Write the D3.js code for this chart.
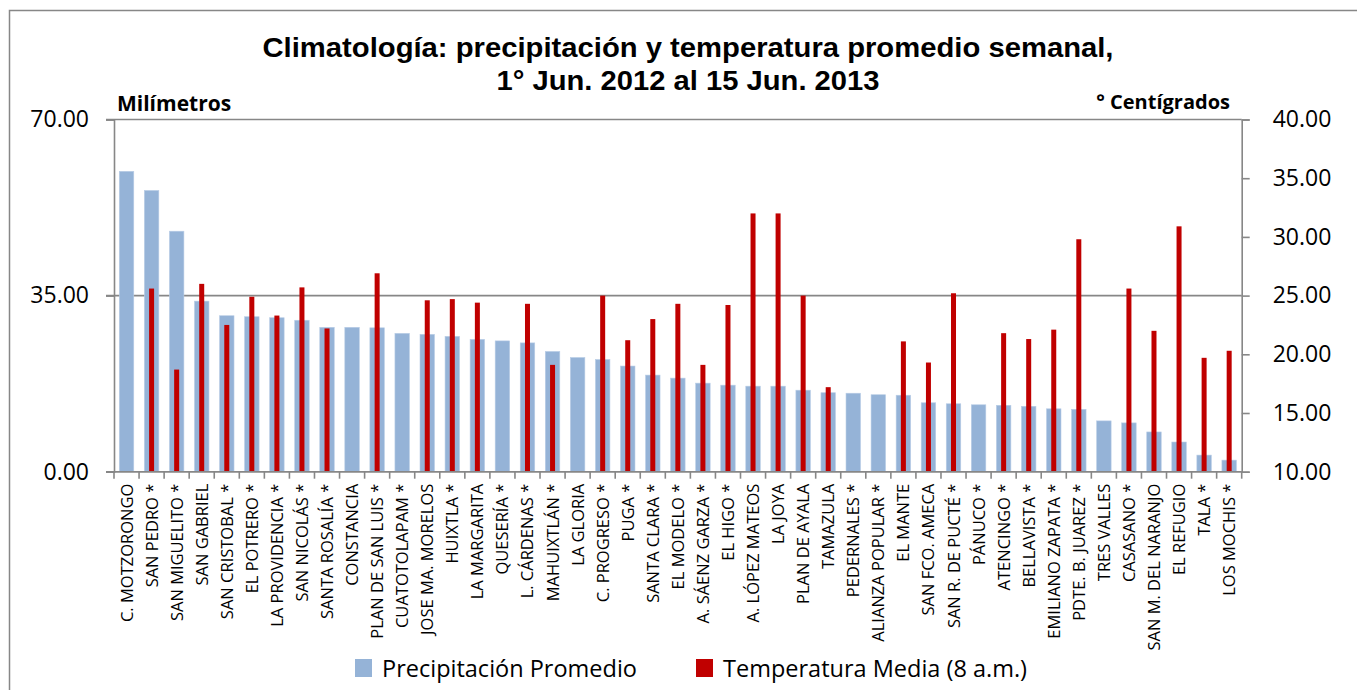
<!DOCTYPE html>
<html>
<head>
<meta charset="utf-8">
<script src="https://cdn.jsdelivr.net/npm/d3@7"></script>
<style>
  body { margin: 0; background: #fff; }
  text { font-family: "Open Sans", sans-serif; fill: #000; }
</style>
</head>
<body>
<svg id="grafica" width="1357" height="690"></svg>
<script>
// estaciones, en el orden del eje x
var estaciones = ["C. MOTZORONGO", "SAN PEDRO *", "SAN MIGUELITO *", "SAN GABRIEL", "SAN CRISTOBAL *",
    "EL POTRERO *", "LA PROVIDENCIA *", "SAN NICOLÁS *", "SANTA ROSALÍA *", "CONSTANCIA",
    "PLAN DE SAN LUIS *", "CUATOTOLAPAM *", "JOSE MA. MORELOS", "HUIXTLA *", "LA MARGARITA",
    "QUESERÍA *", "L. CÁRDENAS *", "MAHUIXTLÁN *", "LA GLORIA", "C. PROGRESO *",
    "PUGA *", "SANTA CLARA *", "EL MODELO *", "A. SÁENZ GARZA *", "EL HIGO *",
    "A. LÓPEZ MATEOS", "LA JOYA", "PLAN DE  AYALA", "TAMAZULA", "PEDERNALES *",
    "ALIANZA POPULAR *", "EL MANTE", "SAN FCO. AMECA", "SAN R. DE PUCTÉ *", "PÁNUCO *",
    "ATENCINGO *", "BELLAVISTA *", "EMILIANO ZAPATA *", "PDTE. B. JUAREZ *", "TRES VALLES",
    "CASASANO *", "SAN M. DEL NARANJO", "EL REFUGIO", "TALA *", "LOS MOCHIS *"];

// precipitación promedio semanal (mm)
var precipitacion = [59.7, 55.9, 47.8, 33.9, 31.0, 30.8, 30.6, 30.1, 28.7, 28.7,
    28.6, 27.5, 27.3, 26.9, 26.3, 26.0, 25.6, 23.9, 22.7, 22.3,
    21.0, 19.2, 18.6, 17.6, 17.2, 17.0, 17.0, 16.2, 15.7, 15.6,
    15.3, 15.2, 13.7, 13.5, 13.3, 13.2, 13.0, 12.5, 12.4, 10.1,
    9.7, 7.9, 5.9, 3.3, 2.3];

// temperatura media 8 a.m. (°C), null = sin dato
var temperatura = [null, 25.6, 18.7, 26.0, 22.5, 24.9, 23.3, 25.7, 22.2, null,
    26.9, null, 24.6, 24.7, 24.4, null, 24.3, 19.1, null, 25.0,
    21.2, 23.0, 24.3, 19.1, 24.2, 32.0, 32.0, 25.0, 17.2, null,
    null, 21.1, 19.3, 25.2, null, 21.8, 21.3, 22.1, 29.8, null,
    25.6, 22.0, 30.9, 19.7, 20.3];

var ticksMm = [0, 35, 70];
var ticksC = [10, 15, 20, 25, 30, 35, 40];

var svg = d3.select("#grafica");
var izq = 114, der = 1241.7, arriba = 119.5, abajo = 471.7;
var gris = "#878787";

// marco del área del gráfico
svg.append("rect")
    .attr("x", 9.5).attr("y", 10.5)
    .attr("width", 1400).attr("height", 800)
    .attr("fill", "none").attr("stroke", gris).attr("stroke-width", 1.5);

var x = d3.scaleBand().domain(estaciones).range([izq, der]);
var yMm = d3.scaleLinear().domain([0, 70]).range([abajo, arriba]);
var yC = d3.scaleLinear().domain([10, 40]).range([abajo, arriba]);

// líneas de división
svg.append("g").selectAll("line")
    .data(ticksMm)
    .enter().append("line")
    .attr("x1", izq - 8).attr("x2", der)
    .attr("y1", d => yMm(d)).attr("y2", d => yMm(d))
    .attr("stroke", gris).attr("stroke-width", 1.6);

// barras de precipitación
var anchoAzul = 14.5;
svg.append("g").selectAll("rect")
    .data(precipitacion)
    .enter().append("rect")
    .attr("x", (d, i) => x(estaciones[i]) + x.bandwidth() / 2 - anchoAzul / 2)
    .attr("y", d => yMm(d))
    .attr("width", anchoAzul)
    .attr("height", d => abajo - yMm(d))
    .attr("fill", "#95b3d7")
    .attr("stroke", "#b9cde6").attr("stroke-width", 0.6);

// barras de temperatura
var anchoRojo = 5;
svg.append("g").selectAll("rect")
    .data(temperatura.map((t, i) => ({ t: t, est: estaciones[i] })).filter(d => d.t !== null))
    .enter().append("rect")
    .attr("x", d => x(d.est) + x.bandwidth() / 2 - anchoRojo / 2)
    .attr("y", d => yC(d.t))
    .attr("width", anchoRojo)
    .attr("height", d => abajo - yC(d.t))
    .attr("fill", "#c00000");

// eje izquierdo
var ejeIzq = svg.append("g")
    .attr("transform", "translate(" + izq + ",0)")
    .call(d3.axisLeft(yMm).tickValues(ticksMm).tickFormat(d3.format(".2f")).tickSize(8).tickPadding(17));
// eje derecho
var ejeDer = svg.append("g")
    .attr("transform", "translate(" + der + ",0)")
    .call(d3.axisRight(yC).tickValues(ticksC).tickFormat(d3.format(".2f")).tickSize(8).tickPadding(23));
[ejeIzq, ejeDer].forEach(function (eje) {
    eje.select(".domain").attr("stroke", gris).attr("stroke-width", 1.6);
    eje.selectAll(".tick line").attr("stroke", gris).attr("stroke-width", 1.6);
    eje.selectAll(".tick text")
        .style("font-family", "Open Sans").style("font-size", "23px").attr("fill", "#000");
});

// eje x
var ejeX = svg.append("g")
    .attr("transform", "translate(0," + abajo + ")");
ejeX.append("line")
    .attr("x1", izq).attr("x2", der)
    .attr("stroke", gris).attr("stroke-width", 1.6);
ejeX.selectAll("line.marca")
    .data(estaciones.concat(["fin"]))
    .enter().append("line")
    .attr("class", "marca")
    .attr("x1", (d, i) => izq + i * x.bandwidth())
    .attr("x2", (d, i) => izq + i * x.bandwidth())
    .attr("y1", 0).attr("y2", 7)
    .attr("stroke", gris).attr("stroke-width", 1.6);
ejeX.selectAll("text")
    .data(estaciones)
    .enter().append("text")
    .attr("transform", d => "translate(" + (x(d) + x.bandwidth() / 2 + 6) + ",12) rotate(-90)")
    .attr("text-anchor", "end")
    .style("font-size", "16.5px")
    .text(d => d);

// títulos
svg.append("text")
    .attr("x", 688).attr("y", 57)
    .attr("text-anchor", "middle")
    .attr("textLength", 851).attr("lengthAdjust", "spacingAndGlyphs")
    .style("font-family", "Liberation Sans, Arial, sans-serif")
    .style("font-weight", "bold").style("font-size", "27px")
    .text("Climatología: precipitación y temperatura promedio semanal,");
svg.append("text")
    .attr("x", 688).attr("y", 90)
    .attr("text-anchor", "middle")
    .attr("textLength", 383).attr("lengthAdjust", "spacingAndGlyphs")
    .style("font-family", "Liberation Sans, Arial, sans-serif")
    .style("font-weight", "bold").style("font-size", "27px")
    .text("1° Jun. 2012 al 15 Jun. 2013");

svg.append("text")
    .attr("x", 117).attr("y", 111)
    .style("font-weight", "bold").style("font-size", "21px")
    .text("Milímetros");
svg.append("text")
    .attr("x", 1230).attr("y", 109)
    .attr("text-anchor", "end")
    .style("font-weight", "bold").style("font-size", "20px")
    .text("° Centígrados");

// leyenda
var leyenda = [
    { color: "#95b3d7", texto: "Precipitación Promedio", x: 355 },
    { color: "#c00000", texto: "Temperatura Media (8 a.m.)", x: 696 }
];
var itemsLeyenda = svg.append("g").selectAll("g")
    .data(leyenda)
    .enter().append("g")
    .attr("transform", d => "translate(" + d.x + ",659)");
itemsLeyenda.append("rect")
    .attr("width", 17).attr("height", 18)
    .attr("fill", d => d.color);
itemsLeyenda.append("text")
    .attr("x", 27).attr("y", 18)
    .style("font-size", "23.5px")
    .text(d => d.texto);
</script>
</body>
</html>
